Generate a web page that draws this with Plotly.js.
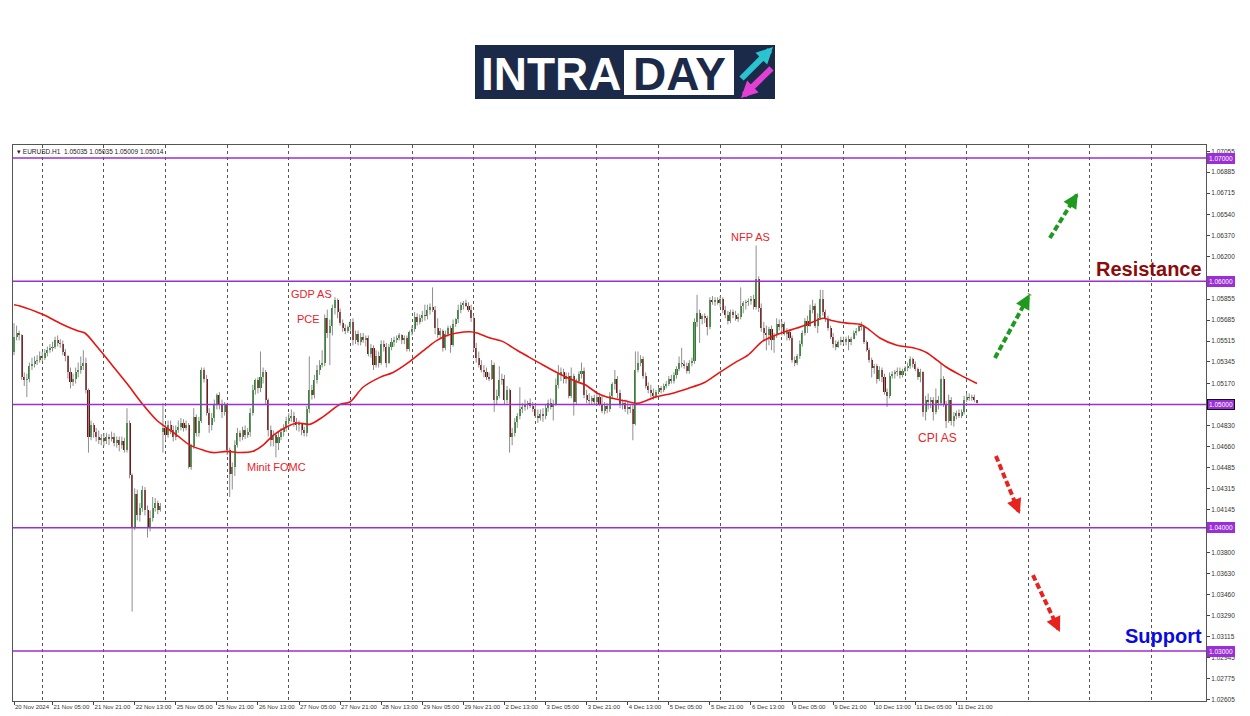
<!DOCTYPE html>
<html><head><meta charset="utf-8">
<script src="https://cdn.plot.ly/plotly-3.0.1.min.js"></script>
<style>html,body{margin:0;padding:0;background:#fff;}#chart{width:1250px;height:716px;}</style>
</head><body><div id="chart"></div>
<script>
// ---- EURUSD H1 candles (bar index 0 = 20 Nov 2024 14:00) ----
const openP = [
1.0543,1.0555,1.0558,1.0556,1.0522,1.0520,1.0521,1.0531,1.0533,1.0535,
1.0536,1.0539,1.0538,1.0542,1.0544,1.0546,1.0547,1.0552,1.0550,1.0549,
1.0543,1.0539,1.0526,1.0518,1.0521,1.0526,1.0528,1.0531,1.0534,1.0512,
1.0474,1.0483,1.0478,1.0474,1.0471,1.0473,1.0470,1.0474,1.0472,1.0474,
1.0469,1.0471,1.0467,1.0470,1.0463,1.0485,1.0443,1.0401,1.0427,1.0410,
1.0416,1.0431,1.0414,1.0400,1.0408,1.0416,1.0420,1.0414,1.0478,1.0481,
1.0475,1.0483,1.0479,1.0474,1.0479,1.0482,1.0485,1.0481,1.0483,1.0449,
1.0466,1.0490,1.0477,1.0487,1.0528,1.0521,1.0493,1.0483,1.0489,1.0500,
1.0508,1.0500,1.0494,1.0500,1.0463,1.0444,1.0449,1.0467,1.0477,1.0474,
1.0479,1.0475,1.0478,1.0493,1.0512,1.0520,1.0513,1.0522,1.0526,1.0504,
1.0479,1.0471,1.0475,1.0469,1.0474,1.0478,1.0481,1.0487,1.0489,1.0491,
1.0486,1.0483,1.0484,1.0479,1.0477,1.0496,1.0512,1.0508,1.0520,1.0528,
1.0532,1.0534,1.0570,1.0558,1.0564,1.0578,1.0585,1.0575,1.0566,1.0562,
1.0560,1.0563,1.0567,1.0552,1.0557,1.0551,1.0555,1.0552,1.0554,1.0541,
1.0546,1.0532,1.0539,1.0534,1.0549,1.0547,1.0534,1.0547,1.0551,1.0552,
1.0554,1.0556,1.0552,1.0554,1.0545,1.0559,1.0561,1.0571,1.0567,1.0570,
1.0573,1.0572,1.0577,1.0579,1.0577,1.0562,1.0556,1.0560,1.0546,1.0557,
1.0562,1.0548,1.0565,1.0569,1.0577,1.0581,1.0582,1.0580,1.0577,1.0570,
1.0546,1.0538,1.0532,1.0528,1.0526,1.0522,1.0521,1.0532,1.0504,1.0507,
1.0520,1.0521,1.0504,1.0512,1.0474,1.0477,1.0486,1.0491,1.0496,1.0498,
1.0500,1.0501,1.0499,1.0496,1.0491,1.0489,1.0492,1.0491,1.0497,1.0501,
1.0498,1.0500,1.0516,1.0525,1.0526,1.0521,1.0523,1.0507,1.0523,1.0502,
1.0519,1.0525,1.0527,1.0508,1.0504,1.0503,1.0505,1.0502,1.0506,1.0500,
1.0495,1.0499,1.0496,1.0507,1.0517,1.0521,1.0509,1.0500,1.0501,1.0496,
1.0498,1.0496,1.0484,1.0528,1.0534,1.0537,1.0523,1.0515,1.0512,1.0509,
1.0507,1.0510,1.0513,1.0512,1.0515,1.0517,1.0521,1.0519,1.0524,1.0529,
1.0534,1.0533,1.0531,1.0527,1.0534,1.0535,1.0567,1.0574,1.0569,1.0572,
1.0570,1.0563,1.0585,1.0583,1.0585,1.0582,1.0586,1.0577,1.0573,1.0568,
1.0575,1.0573,1.0569,1.0571,1.0580,1.0582,1.0583,1.0584,1.0586,1.0579,
1.0602,1.0578,1.0562,1.0558,1.0556,1.0561,1.0552,1.0556,1.0565,1.0563,
1.0565,1.0557,1.0559,1.0554,1.0536,1.0534,1.0539,1.0549,1.0558,1.0568,
1.0564,1.0577,1.0580,1.0564,1.0570,1.0586,1.0575,1.0569,1.0562,1.0555,
1.0549,1.0547,1.0551,1.0552,1.0551,1.0553,1.0551,1.0553,1.0558,1.0560,
1.0564,1.0563,1.0551,1.0544,1.0536,1.0530,1.0531,1.0521,1.0528,1.0522,
1.0510,1.0507,1.0523,1.0525,1.0526,1.0527,1.0524,1.0527,1.0530,1.0531,
1.0537,1.0533,1.0529,1.0522,1.0526,1.0494,1.0504,1.0502,1.0504,1.0494,
1.0504,1.0501,1.0521,1.0500,1.0487,1.0504,1.0487,1.0491,1.0493,1.0491,
1.0494,1.0504,1.0506,1.0505,1.0506,1.05035
];
const highP = [
1.0566,1.0564,1.0560,1.0557,1.0526,1.0525,1.0534,1.0538,1.0539,1.0540,
1.0543,1.0543,1.0545,1.0547,1.0549,1.0551,1.0555,1.0556,1.0553,1.0552,
1.0545,1.0540,1.0530,1.0525,1.0530,1.0534,1.0539,1.0544,1.0538,1.0513,
1.0487,1.0485,1.0481,1.0479,1.0476,1.0477,1.0477,1.0476,1.0478,1.0477,
1.0474,1.0474,1.0474,1.0473,1.0497,1.0487,1.0444,1.0432,1.0431,1.0420,
1.0434,1.0433,1.0418,1.0414,1.0425,1.0424,1.0422,1.0420,1.0501,1.0484,
1.0487,1.0487,1.0483,1.0483,1.0487,1.0489,1.0488,1.0487,1.0485,1.0468,
1.0497,1.0492,1.0490,1.0530,1.0530,1.0524,1.0497,1.0493,1.0504,1.0509,
1.0510,1.0504,1.0502,1.0501,1.0465,1.0453,1.0471,1.0481,1.0479,1.0482,
1.0483,1.0481,1.0497,1.0516,1.0521,1.0522,1.0543,1.0530,1.0528,1.0505,
1.0483,1.0479,1.0477,1.0478,1.0481,1.0484,1.0490,1.0493,1.0496,1.0494,
1.0489,1.0487,1.0485,1.0482,1.0499,1.0539,1.0516,1.0524,1.0532,1.0536,
1.0544,1.0573,1.0577,1.0569,1.0581,1.0587,1.0586,1.0578,1.0569,1.0565,
1.0564,1.0569,1.0570,1.0560,1.0560,1.0558,1.0558,1.0556,1.0556,1.0549,
1.0548,1.0544,1.0543,1.0552,1.0552,1.0550,1.0549,1.0554,1.0555,1.0556,
1.0558,1.0557,1.0556,1.0556,1.0560,1.0564,1.0575,1.0574,1.0573,1.0576,
1.0581,1.0581,1.0582,1.0595,1.0580,1.0570,1.0562,1.0561,1.0560,1.0564,
1.0564,1.0569,1.0570,1.0581,1.0583,1.0584,1.0585,1.0583,1.0581,1.0572,
1.0550,1.0543,1.0536,1.0532,1.0530,1.0526,1.0536,1.0534,1.0512,1.0531,
1.0525,1.0524,1.0515,1.0513,1.0481,1.0489,1.0493,1.0514,1.0501,1.0504,
1.0503,1.0505,1.0502,1.0500,1.0496,1.0496,1.0497,1.0500,1.0504,1.0505,
1.0504,1.0521,1.0532,1.0530,1.0529,1.0526,1.0526,1.0530,1.0525,1.0521,
1.0527,1.0534,1.0530,1.0512,1.0509,1.0507,1.0508,1.0509,1.0509,1.0507,
1.0502,1.0501,1.0510,1.0518,1.0528,1.0523,1.0512,1.0504,1.0504,1.0502,
1.0500,1.0500,1.0543,1.0543,1.0540,1.0539,1.0526,1.0518,1.0516,1.0513,
1.0512,1.0514,1.0515,1.0517,1.0519,1.0523,1.0524,1.0526,1.0531,1.0539,
1.0546,1.0536,1.0534,1.0536,1.0538,1.0570,1.0589,1.0577,1.0573,1.0574,
1.0572,1.0587,1.0588,1.0587,1.0587,1.0588,1.0587,1.0580,1.0576,1.0577,
1.0577,1.0576,1.0574,1.0595,1.0584,1.0585,1.0586,1.0588,1.0589,1.0629,
1.0604,1.0582,1.0567,1.0564,1.0563,1.0564,1.0558,1.0570,1.0569,1.0568,
1.0567,1.0562,1.0561,1.0556,1.0539,1.0541,1.0552,1.0560,1.0570,1.0572,
1.0581,1.0585,1.0582,1.0574,1.0593,1.0593,1.0577,1.0572,1.0564,1.0558,
1.0552,1.0552,1.0555,1.0555,1.0555,1.0556,1.0555,1.0560,1.0562,1.0565,
1.0567,1.0564,1.0552,1.0546,1.0538,1.0533,1.0533,1.0531,1.0530,1.0525,
1.0513,1.0526,1.0527,1.0528,1.0530,1.0530,1.0529,1.0531,1.0534,1.0539,
1.0538,1.0535,1.0530,1.0529,1.0527,1.0507,1.0509,1.0506,1.0506,1.0513,
1.0507,1.0534,1.0523,1.0503,1.0508,1.0506,1.0494,1.0495,1.0496,1.0496,
1.0507,1.0509,1.0509,1.0508,1.0508,1.05035
];
const lowP = [
1.0540,1.0552,1.0552,1.0520,1.0515,1.0506,1.0518,1.0528,1.0530,1.0532,
1.0534,1.0535,1.0536,1.0539,1.0542,1.0543,1.0545,1.0547,1.0546,1.0540,
1.0535,1.0521,1.0513,1.0515,1.0517,1.0522,1.0525,1.0528,1.0509,1.0461,
1.0471,1.0473,1.0470,1.0468,1.0467,1.0466,1.0468,1.0467,1.0470,1.0466,
1.0465,1.0462,1.0464,1.0461,1.0461,1.0440,1.0332,1.0398,1.0406,1.0405,
1.0413,1.0410,1.0392,1.0397,1.0405,1.0413,1.0411,1.0413,1.0461,1.0471,
1.0473,1.0476,1.0470,1.0471,1.0477,1.0479,1.0478,1.0479,1.0448,1.0447,
1.0464,1.0474,1.0474,1.0485,1.0518,1.0491,1.0477,1.0479,1.0486,1.0496,
1.0496,1.0489,1.0491,1.0459,1.0425,1.0431,1.0442,1.0465,1.0470,1.0471,
1.0472,1.0473,1.0474,1.0491,1.0508,1.0509,1.0510,1.0517,1.0500,1.0474,
1.0466,1.0466,1.0457,1.0463,1.0471,1.0474,1.0478,1.0484,1.0486,1.0482,
1.0479,1.0478,1.0475,1.0474,1.0474,1.0493,1.0504,1.0505,1.0517,1.0524,
1.0530,1.0531,1.0554,1.0532,1.0556,1.0573,1.0570,1.0564,1.0559,1.0557,
1.0558,1.0560,1.0548,1.0549,1.0548,1.0548,1.0550,1.0547,1.0539,1.0538,
1.0528,1.0530,1.0530,1.0532,1.0543,1.0530,1.0533,1.0544,1.0547,1.0550,
1.0552,1.0549,1.0549,1.0543,1.0543,1.0556,1.0559,1.0564,1.0565,1.0567,
1.0568,1.0569,1.0573,1.0575,1.0557,1.0554,1.0554,1.0543,1.0544,1.0555,
1.0542,1.0547,1.0563,1.0566,1.0574,1.0577,1.0579,1.0575,1.0567,1.0544,
1.0534,1.0530,1.0526,1.0522,1.0520,1.0519,1.0520,1.0494,1.0500,1.0505,
1.0516,1.0500,1.0501,1.0461,1.0467,1.0474,1.0481,1.0488,1.0493,1.0495,
1.0496,1.0497,1.0494,1.0489,1.0485,1.0487,1.0486,1.0488,1.0494,1.0496,
1.0487,1.0499,1.0513,1.0519,1.0517,1.0517,1.0505,1.0505,1.0491,1.0500,
1.0517,1.0521,1.0505,1.0501,1.0500,1.0500,1.0500,1.0499,1.0499,1.0493,
1.0492,1.0493,1.0494,1.0505,1.0512,1.0505,1.0497,1.0496,1.0494,1.0492,
1.0493,1.0471,1.0483,1.0526,1.0531,1.0521,1.0513,1.0509,1.0506,1.0504,
1.0505,1.0509,1.0509,1.0510,1.0513,1.0515,1.0517,1.0517,1.0521,1.0527,
1.0530,1.0529,1.0525,1.0525,1.0531,1.0533,1.0563,1.0550,1.0565,1.0566,
1.0556,1.0561,1.0581,1.0580,1.0581,1.0579,1.0574,1.0570,1.0565,1.0566,
1.0570,1.0568,1.0567,1.0569,1.0574,1.0577,1.0580,1.0581,1.0577,1.0577,
1.0575,1.0559,1.0552,1.0544,1.0548,1.0544,1.0542,1.0554,1.0560,1.0556,
1.0556,1.0552,1.0552,1.0534,1.0531,1.0532,1.0537,1.0547,1.0556,1.0558,
1.0563,1.0574,1.0562,1.0558,1.0569,1.0572,1.0567,1.0560,1.0553,1.0546,
1.0544,1.0546,1.0548,1.0549,1.0548,1.0544,1.0548,1.0553,1.0556,1.0559,
1.0560,1.0549,1.0543,1.0534,1.0522,1.0525,1.0517,1.0519,1.0518,1.0508,
1.0498,1.0505,1.0521,1.0521,1.0523,1.0521,1.0522,1.0526,1.0527,1.0529,
1.0530,1.0527,1.0520,1.0518,1.0490,1.0487,1.0496,1.0497,1.0487,1.0492,
1.0496,1.0499,1.0498,1.0481,1.0485,1.0483,1.0482,1.0488,1.0489,1.0489,
1.0492,1.0502,1.0503,1.0503,1.0502,1.05009
];
const closeP = [
1.0555,1.0558,1.0556,1.0522,1.0520,1.0521,1.0531,1.0533,1.0535,1.0536,
1.0539,1.0538,1.0542,1.0544,1.0546,1.0547,1.0552,1.0550,1.0549,1.0543,
1.0539,1.0526,1.0518,1.0521,1.0526,1.0528,1.0531,1.0534,1.0512,1.0474,
1.0483,1.0478,1.0474,1.0471,1.0473,1.0470,1.0474,1.0472,1.0474,1.0469,
1.0471,1.0467,1.0470,1.0463,1.0485,1.0443,1.0401,1.0427,1.0410,1.0416,
1.0431,1.0414,1.0400,1.0408,1.0416,1.0420,1.0414,1.0418,1.0481,1.0475,
1.0483,1.0479,1.0474,1.0479,1.0482,1.0485,1.0481,1.0483,1.0449,1.0466,
1.0490,1.0477,1.0487,1.0528,1.0521,1.0493,1.0483,1.0489,1.0500,1.0508,
1.0500,1.0494,1.0500,1.0463,1.0444,1.0449,1.0467,1.0477,1.0474,1.0479,
1.0475,1.0478,1.0493,1.0512,1.0520,1.0513,1.0522,1.0526,1.0504,1.0479,
1.0471,1.0475,1.0469,1.0474,1.0478,1.0481,1.0487,1.0489,1.0491,1.0486,
1.0483,1.0484,1.0479,1.0477,1.0496,1.0512,1.0508,1.0520,1.0528,1.0532,
1.0534,1.0570,1.0558,1.0564,1.0578,1.0585,1.0575,1.0566,1.0562,1.0560,
1.0563,1.0567,1.0552,1.0557,1.0551,1.0555,1.0552,1.0554,1.0541,1.0546,
1.0532,1.0539,1.0534,1.0549,1.0547,1.0534,1.0547,1.0551,1.0552,1.0554,
1.0556,1.0552,1.0554,1.0545,1.0559,1.0561,1.0571,1.0567,1.0570,1.0573,
1.0572,1.0577,1.0579,1.0577,1.0562,1.0556,1.0560,1.0546,1.0557,1.0562,
1.0548,1.0565,1.0569,1.0577,1.0581,1.0582,1.0580,1.0577,1.0570,1.0546,
1.0538,1.0532,1.0528,1.0526,1.0522,1.0521,1.0532,1.0504,1.0507,1.0520,
1.0521,1.0504,1.0512,1.0474,1.0477,1.0486,1.0491,1.0496,1.0498,1.0500,
1.0501,1.0499,1.0496,1.0491,1.0489,1.0492,1.0491,1.0497,1.0501,1.0498,
1.0500,1.0516,1.0525,1.0526,1.0521,1.0523,1.0507,1.0523,1.0502,1.0519,
1.0525,1.0527,1.0508,1.0504,1.0503,1.0505,1.0502,1.0506,1.0500,1.0495,
1.0499,1.0496,1.0507,1.0517,1.0521,1.0509,1.0500,1.0501,1.0496,1.0498,
1.0496,1.0484,1.0528,1.0534,1.0537,1.0523,1.0515,1.0512,1.0509,1.0507,
1.0510,1.0513,1.0512,1.0515,1.0517,1.0521,1.0519,1.0524,1.0529,1.0534,
1.0533,1.0531,1.0527,1.0534,1.0535,1.0567,1.0574,1.0569,1.0572,1.0570,
1.0563,1.0585,1.0583,1.0585,1.0582,1.0586,1.0577,1.0573,1.0568,1.0575,
1.0573,1.0569,1.0571,1.0580,1.0582,1.0583,1.0584,1.0586,1.0579,1.0602,
1.0578,1.0562,1.0558,1.0556,1.0561,1.0552,1.0556,1.0565,1.0563,1.0565,
1.0557,1.0559,1.0554,1.0536,1.0534,1.0539,1.0549,1.0558,1.0568,1.0564,
1.0577,1.0580,1.0564,1.0570,1.0586,1.0575,1.0569,1.0562,1.0555,1.0549,
1.0547,1.0551,1.0552,1.0551,1.0553,1.0551,1.0553,1.0558,1.0560,1.0564,
1.0563,1.0551,1.0544,1.0536,1.0530,1.0531,1.0521,1.0528,1.0522,1.0510,
1.0507,1.0523,1.0525,1.0526,1.0527,1.0524,1.0527,1.0530,1.0531,1.0537,
1.0533,1.0529,1.0522,1.0526,1.0494,1.0504,1.0502,1.0504,1.0494,1.0504,
1.0501,1.0521,1.0500,1.0487,1.0504,1.0487,1.0491,1.0493,1.0491,1.0494,
1.0504,1.0506,1.0505,1.0506,1.05035,1.05014
];

// moving average (red line), read at sample bars
const maIndex = [0,2.3,11.3,17.9,24.5,27.6,32.3,37.4,44,50.2,55.7,58.8,63.5,68.5,73.6,77.5,82.9,88,93.1,97,100.9,106.3,110.2,115.3,120.3,126.9,130.8,135.9,142.5,147.6,154.2,160.8,164.7,168.6,172.5,177.6,180.3,185.4,190.4,195.9,200.9,206,211.4,217.3,222.4,227.4,232.9,237.9,243,249.6,256.2,262.5,269.1,274.1,280.8,285.8,291.3,296.3,300.2,304.9,311.1,315,318.9,324.4,329.4,332.2,337.2,343.8,350.1,355.5,359.4,363.3,368.4,375];
const maValue = [1.0581,1.0580,1.0573,1.0566,1.0560,1.0558,1.0547,1.0534,1.0517,1.0500,1.0487,1.0482,1.0475,1.0467,1.0463,1.0461,1.0462,1.0461,1.0462,1.0467,1.0475,1.0482,1.0485,1.0484,1.0490,1.0500,1.0502,1.0514,1.0522,1.0526,1.0535,1.0546,1.0552,1.0556,1.0558,1.0559,1.0558,1.0554,1.0551,1.0544,1.0538,1.0532,1.0526,1.0520,1.0516,1.0509,1.0505,1.0503,1.0501,1.0506,1.0509,1.0513,1.0518,1.0525,1.0534,1.0540,1.0551,1.0556,1.0559,1.0562,1.0567,1.0570,1.0568,1.0566,1.0565,1.0562,1.0554,1.0548,1.0546,1.0542,1.0536,1.0530,1.0524,1.0517];

const tickIndex = [0,15,31,47,63,79,95,111,127,143,159,175,191,207,223,239,255,271,287,303,319,335,351,367];
const tickLabels = ['20 Nov 2024','21 Nov 05:00','21 Nov 21:00','22 Nov 13:00','25 Nov 05:00','25 Nov 21:00','26 Nov 13:00','27 Nov 05:00','27 Nov 21:00','28 Nov 13:00','29 Nov 05:00','29 Nov 21:00','2 Dec 13:00','3 Dec 05:00','3 Dec 21:00','4 Dec 13:00','5 Dec 05:00','5 Dec 21:00','6 Dec 13:00','9 Dec 05:00','9 Dec 21:00','10 Dec 13:00','11 Dec 05:00','11 Dec 21:00'];
const priceTicks = [1.02605,1.02775,1.02945,1.03115,1.0329,1.0346,1.0363,1.038,1.03975,1.04145,1.04315,1.04485,1.0466,1.0483,1.0517,1.05345,1.05515,1.05685,1.05855,1.062,1.0637,1.0654,1.06715,1.06885,1.07055];
const levels = [1.07,1.06,1.05,1.04,1.03];
const levelLabels = ['1.07000','1.06000','1.05000','1.04000','1.03000'];
const events = ['GDP AS','PCE','Minit FOMC','NFP AS','CPI AS'];
const eventBar = [115.7,114.5,102.4,287,359.8];
const eventPrice = [1.0590,1.0569,1.0449,1.0636,1.0473];

// ---- build traces ----
const barIndex = openP.map((_, i) => i);
const wx = [], wy = [];
barIndex.forEach(i => { wx.push(i, i, null); wy.push(lowP[i], highP[i], null); });
const bodyBase = barIndex.map(i => Math.min(openP[i], closeP[i]));
const bodyLen = barIndex.map(i => Math.max(Math.abs(closeP[i] - openP[i]), 0.00003));
const bodyCol = barIndex.map(i => closeP[i] >= openP[i] ? '#1e8a1e' : '#7d0c0c');

const traces = [
  {type:'scatter', mode:'lines', x:wx, y:wy, line:{color:'#8e8e8e', width:1}, hoverinfo:'skip'},
  {type:'bar', x:barIndex, base:bodyBase, y:bodyLen, width:0.8, marker:{color:bodyCol, line:{width:0}}, hoverinfo:'skip'},
  {type:'scatter', mode:'lines', x:maIndex, y:maValue, line:{color:'#e8140f', width:1.6, shape:'spline', smoothing:0.8}, hoverinfo:'skip'}
];

// ---- layout ----
const W = 1250, H = 716, ML = 13, MR = 44, MT = 145, MB = 15;
const pw = W - ML - MR, ph = H - MT - MB;
const px = x => (x - ML) / pw;           // pixel -> paper (decorations only)
const py = y => (H - MB - y) / ph;

const shapes = [];
levels.forEach(v => shapes.push({type:'line', xref:'paper', x0:0, x1:1, yref:'y', y0:v, y1:v, line:{color:'#9b2fd6', width:1.6}, layer:'above'}));

// dashed direction arrows (bar index / price coords)
const arrows = [
  {x0:403.4, y0:1.06351, x1:414.3, y1:1.06716, c:'#1f9a1f'},
  {x0:382.0, y0:1.05377, x1:395.6, y1:1.05897, c:'#1f9a1f'},
  {x0:382.4, y0:1.04582, x1:391.7, y1:1.04111, c:'#e8231f'},
  {x0:396.8, y0:1.03616, x1:407.3, y1:1.03154, c:'#e8231f'}
];
const annotations = [];
arrows.forEach(a => {
  shapes.push({type:'line', xref:'x', yref:'y', x0:a.x0, y0:a.y0, x1:a.x1, y1:a.y1, line:{color:a.c, width:4, dash:'6px,3px'}});
  const dxp = (a.x1 - a.x0) * 2.568, dyp = -(a.y1 - a.y0) * 12325;
  const L = Math.hypot(dxp, dyp);
  annotations.push({x:a.x1, y:a.y1, xref:'x', yref:'y', text:'', showarrow:true, arrowhead:2, arrowsize:1, arrowwidth:3, arrowcolor:a.c, ax:-dxp/L*9, ay:-dyp/L*9});
});

// logo
shapes.push({type:'rect', xref:'paper', yref:'paper', x0:px(475), x1:px(775), y0:py(99), y1:py(45), fillcolor:'#1c2a4a', line:{width:0}, layer:'above'});
shapes.push({type:'rect', xref:'paper', yref:'paper', x0:px(624), x1:px(734), y0:py(95), y1:py(50), fillcolor:'#ffffff', line:{width:0}, layer:'above'});
annotations.push({xref:'paper', yref:'paper', x:px(551), y:py(74), text:'<b>INTRA</b>', showarrow:false, font:{family:'Liberation Sans, Arial', size:46, color:'#ffffff'}, xanchor:'center', yanchor:'middle'});
annotations.push({xref:'paper', yref:'paper', x:px(679), y:py(74), text:'<b>DAY</b>', showarrow:false, font:{family:'Liberation Sans, Arial', size:46, color:'#1c2a4a'}, xanchor:'center', yanchor:'middle'});
annotations.push({xref:'paper', yref:'paper', x:px(773), y:py(47), text:'', showarrow:true, arrowhead:2, arrowsize:0.55, arrowwidth:6, arrowcolor:'#2ac4d0', ax:-33, ay:33});
annotations.push({xref:'paper', yref:'paper', x:px(741), y:py(98), text:'', showarrow:true, arrowhead:2, arrowsize:0.55, arrowwidth:6, arrowcolor:'#e23fd3', ax:32, ay:-31});

// header
annotations.push({xref:'paper', yref:'paper', x:0, y:1, xanchor:'left', yanchor:'top', xshift:2, yshift:-1, text:'\u25BE EURUSD.H1  1.05035 1.05035 1.05009 1.05014', showarrow:false, font:{family:'Liberation Sans, Arial', size:6.5, color:'#222'}});

// price boxes
levels.forEach((v, k) => annotations.push({xref:'paper', yref:'y', x:1, y:v, xanchor:'left', yanchor:'middle', xshift:1, text:levelLabels[k], showarrow:false, bgcolor:'#9b2fd6', bordercolor: v === 1.05 ? '#111' : '#9b2fd6', borderwidth:1, borderpad:1, font:{family:'Liberation Sans, Arial', size:6.5, color:'#ffffff'}}));

// event labels
events.forEach((t, k) => annotations.push({xref:'x', yref:'y', x:eventBar[k], y:eventPrice[k], text:t, showarrow:false, font:{family:'Liberation Sans, Arial', size: t === 'CPI AS' ? 12 : 11, color:'#e8242b'}}));

// zone labels
annotations.push({xref:'paper', yref:'y', x:px(1204), y:1.0610, xanchor:'right', yanchor:'middle', text:'<b>Resistance</b>', showarrow:false, font:{family:'Liberation Sans Narrow, Liberation Sans, Arial', size:20, color:'#8b0b0b'}});
annotations.push({xref:'paper', yref:'y', x:px(1204), y:1.0312, xanchor:'right', yanchor:'middle', text:'<b>Support</b>', showarrow:false, font:{family:'Liberation Sans Narrow, Liberation Sans, Arial', size:20, color:'#0a0ae0'}});

const layout = {
  width:W, height:H, margin:{l:ML, r:MR, t:MT, b:MB, pad:0},
  paper_bgcolor:'#ffffff', plot_bgcolor:'#ffffff',
  showlegend:false, hovermode:false, barmode:'overlay', bargap:0,
  xaxis:{type:'linear', range:[-0.39, 464.2], tickmode:'array', tickvals:tickIndex, ticktext:tickLabels, tickangle:0,
         ticks:'outside', ticklen:3, tickcolor:'#444', ticklabelposition:'outside right',
         tickfont:{family:'Liberation Sans, Arial', size:6, color:'#333'},
         showgrid:false, zeroline:false, showline:true, mirror:true, linecolor:'#555', linewidth:1,
         minor:{tick0:11, dtick:24, showgrid:true, gridcolor:'#555', griddash:'dot', gridwidth:1, ticks:''},
         automargin:false, fixedrange:true},
  yaxis:{range:[1.025943, 1.071055], side:'right', tickmode:'array', tickvals:priceTicks, ticktext:priceTicks.map(v => v.toFixed(5)),
         ticks:'outside', ticklen:3, tickcolor:'#444', tickfont:{family:'Liberation Sans, Arial', size:6.5, color:'#333'},
         showgrid:false, zeroline:false, showline:true, mirror:true, linecolor:'#555', linewidth:1,
         automargin:false, fixedrange:true},
  shapes:shapes, annotations:annotations
};

Plotly.newPlot('chart', traces, layout, {displayModeBar:false, staticPlot:true});
</script>
</body></html>
